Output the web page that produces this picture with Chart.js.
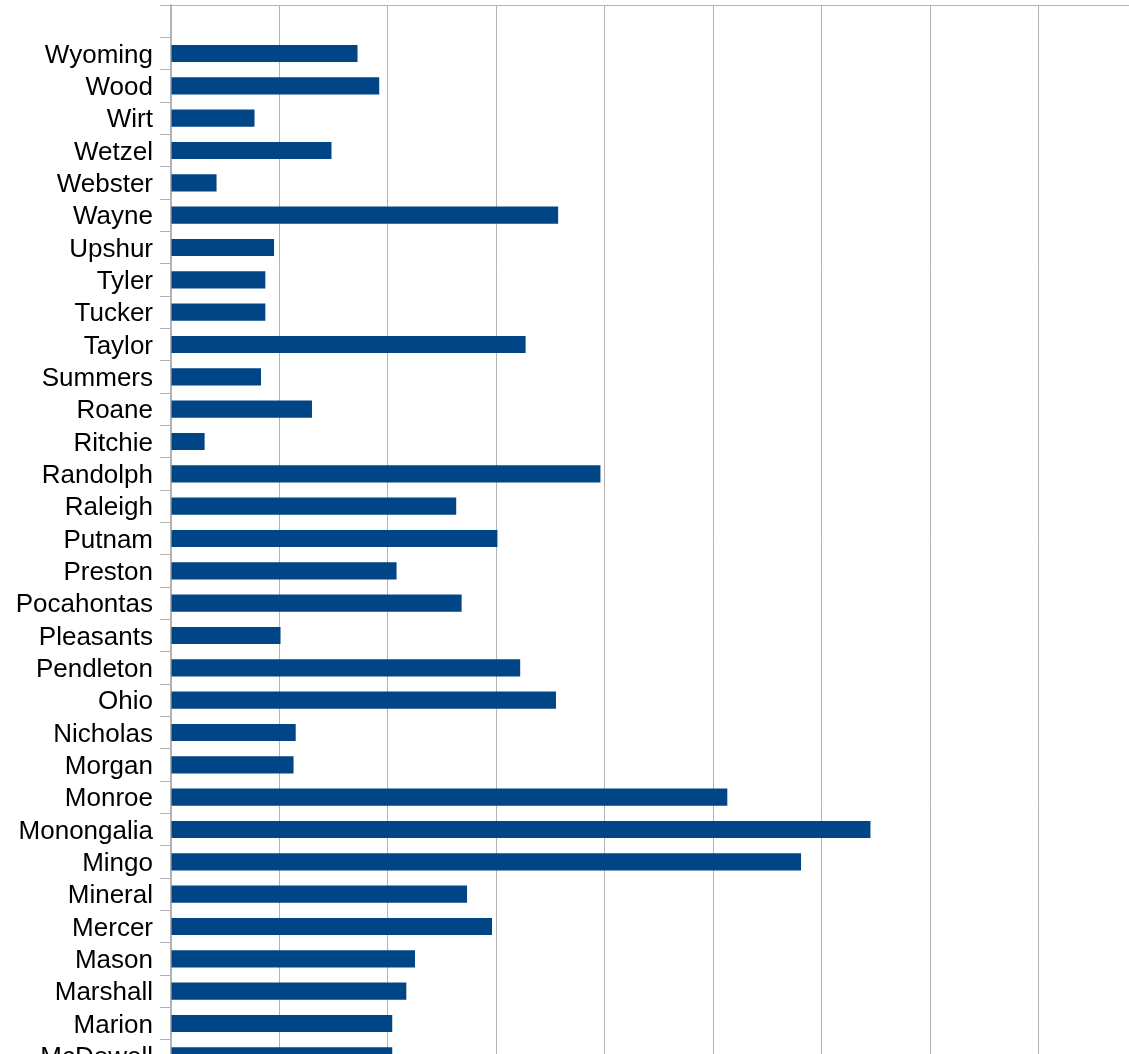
<!DOCTYPE html>
<html>
<head>
<meta charset="utf-8">
<script src="https://cdn.jsdelivr.net/npm/chart.js@4/dist/chart.umd.min.js"></script>
<style>
  html, body { margin: 0; padding: 0; background: #fff; overflow: hidden; }
</style>
</head>
<body>
<canvas id="barras" width="1160" height="1080"></canvas>
<script>
// condados (el primero vacio, como en la hoja original)
var condados = [
  "", "Wyoming", "Wood", "Wirt", "Wetzel", "Webster", "Wayne", "Upshur", "Tyler",
  "Tucker", "Taylor", "Summers", "Roane", "Ritchie", "Randolph", "Raleigh",
  "Putnam", "Preston", "Pocahontas", "Pleasants", "Pendleton", "Ohio",
  "Nicholas", "Morgan", "Monroe", "Monongalia", "Mingo", "Mineral", "Mercer",
  "Mason", "Marshall", "Marion", "McDowell"
];

// valores
var valores = [
  null, 17.2, 19.2, 7.7, 14.8, 4.2, 35.7, 9.5, 8.7,
  8.7, 32.7, 8.3, 13.0, 3.1, 39.6, 26.3,
  30.1, 20.8, 26.8, 10.1, 32.2, 35.5,
  11.5, 11.3, 51.3, 64.5, 58.1, 27.3, 29.6,
  22.5, 21.7, 20.4, 20.4
];

var gris = "#b3b3b3";

var serie = {
  label: "Valor",
  data: valores,
  backgroundColor: "#004586",
  borderWidth: 0,
  barPercentage: 1,
  categoryPercentage: 0.53,
};

var opciones = {
  indexAxis: "y",
  responsive: false,
  animation: false,
  layout: { padding: { top: 5, right: 13, bottom: 8, left: 0 } },
  plugins: {
    legend: { display: false },
    tooltip: { enabled: false },
  },
  scales: {
    x: {
      min: 0,
      max: 90,
      ticks: { display: false, stepSize: 10 },
      grid: { color: gris, lineWidth: 1, drawTicks: false },
      border: { display: false },
    },
    y: {
      afterFit: function (scale) {
        scale.width = 171;
        scale.paddingTop = 0;
        scale.paddingBottom = 0;
      },
      ticks: {
        autoSkip: false,
        color: "#000",
        padding: 7,
        labelOffset: 2,
        font: { family: "'Liberation Sans', Arial, sans-serif", size: 26 },
      },
      grid: {
        offset: true,
        tickLength: 11,
        tickColor: gris,
        color: function (ctx) { return ctx.index === 0 ? gris : "rgba(0,0,0,0)"; },
      },
      border: { color: gris, width: 1.5 },
    },
  },
};

const ctx = document.getElementById("barras");
const grafico = new Chart(ctx, {
  type: "bar",
  data: { labels: condados, datasets: [serie] },
  options: opciones,
});
</script>
</body>
</html>
